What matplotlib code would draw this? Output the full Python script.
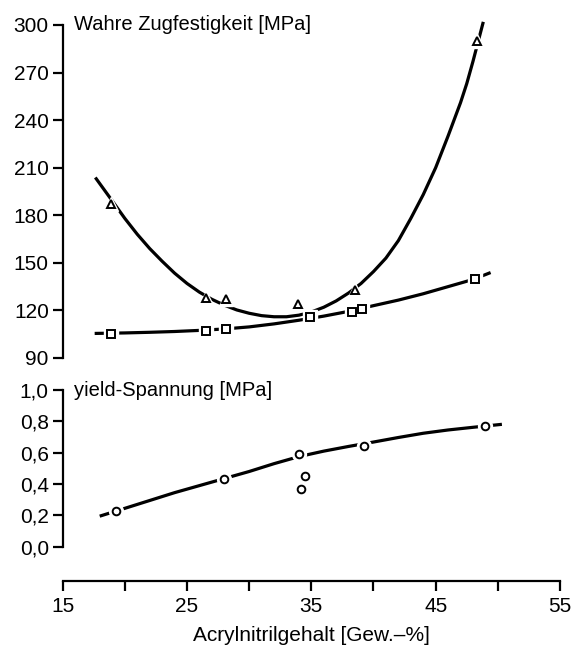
import matplotlib.pyplot as plt

plt.rcParams['font.family'] = ['Liberation Sans', 'DejaVu Sans']

tri_x = [18.9, 26.5, 28.1, 33.9, 38.5, 48.3]
tri_y = [187, 128, 127, 124, 133, 290]
sq_x = [18.9, 26.5, 28.1, 34.9, 38.3, 39.1, 48.2]
sq_y = [105, 107, 108, 116, 119, 121, 140]
circ_x = [19.3, 28.0, 34.0, 34.5, 34.2, 39.2, 49.0]
circ_y = [0.23, 0.43, 0.59, 0.45, 0.37, 0.645, 0.77]

# Hand drawn trend curves
tri_fit_x = [17.7, 18.9, 20, 21, 22, 23, 24, 25, 26, 27, 28, 29, 30, 31, 32, 33, 34,
             35, 36, 37, 38, 39, 40, 41, 42, 43, 44, 45, 46, 47, 47.5, 48, 48.4, 48.8]
tri_fit_y = [203, 190, 178, 168, 159, 151, 143.5, 137, 131.5, 127, 123.3, 120.3, 118.2,
             116.7, 116, 116, 117, 119, 122, 126, 131, 137, 144.5, 153, 164, 178, 193,
             210, 230, 251, 263, 277, 289, 301]
sq_fit_x = [17.7, 20, 22, 24, 26, 28, 30, 32, 34, 36, 38, 40, 42, 44, 46, 48, 49.3]
sq_fit_y = [105.5, 105.8, 106.2, 106.7, 107.4, 108.3, 109.6, 111.5, 113.8, 116.4, 119.4,
            123, 126.5, 130.5, 135, 139.5, 143.5]
yield_fit_x = [18.1, 20, 22, 24, 26, 28, 30, 32, 34, 36, 38, 40, 42, 44, 46, 48, 50.2]
yield_fit_y = [0.198, 0.245, 0.295, 0.345, 0.39, 0.435, 0.48, 0.53, 0.575, 0.61, 0.64,
               0.668, 0.697, 0.724, 0.745, 0.762, 0.78]

top_ticks = [90, 120, 150, 180, 210, 240, 270, 300]
mid_ticks = [0.0, 0.2, 0.4, 0.6, 0.8, 1.0]
mid_labels = ['0,0', '0,2', '0,4', '0,6', '0,8', '1,0']
x_ticks = [15, 20, 25, 30, 35, 40, 45, 50, 55]
x_labels = ['15', '', '25', '', '35', '', '45', '', '55']

fig = plt.figure(figsize=(5.71, 6.47), dpi=100)
left, width = 0.1098, 0.8709
ax_top = fig.add_axes([left, 0.4467, width, 0.5147])
ax_mid = fig.add_axes([left, 0.155, width, 0.2422])
ax_x = fig.add_axes([left, 0.1025, width, 0.0001])

lw = 2.3
fs = 15


def marks(ax, x, y, m):
    # white halo so the curve shows a gap around each symbol
    ax.plot(x, y, ls='none', marker=m, ms=10, mfc='white', mec='white', zorder=3, clip_on=False)
    ax.plot(x, y, ls='none', marker=m, ms=5.5, mfc='white', mec='black', mew=1.4, zorder=4, clip_on=False)


def style_y(ax, ticks, labels, title, top):
    for s in ['top', 'right', 'bottom']:
        ax.spines[s].set_visible(False)
    ax.spines['left'].set_linewidth(1.6)
    ax.set_xlim(15, 55)
    ax.set_xticks([])
    ax.set_yticks(ticks)
    ax.set_yticklabels(labels)
    ax.tick_params(axis='y', direction='out', length=7, width=1.6, labelsize=fs, pad=3)
    ax.set_facecolor('none')
    ax.text(0.022, top, title, transform=ax.get_yaxis_transform(), fontsize=14.5,
            va='center', ha='left')


# top panel: true tensile strength
ax_top.plot(tri_fit_x, tri_fit_y, color='black', lw=lw, clip_on=False, zorder=2)
ax_top.plot(sq_fit_x, sq_fit_y, color='black', lw=lw, zorder=2)
marks(ax_top, tri_x, tri_y, '^')
marks(ax_top, sq_x, sq_y, 's')
ax_top.set_ylim(90, 300)
style_y(ax_top, top_ticks, [str(t) for t in top_ticks], 'Wahre Zugfestigkeit [MPa]', 300)

# middle panel: yield stress
ax_mid.plot(yield_fit_x, yield_fit_y, color='black', lw=lw, zorder=2)
marks(ax_mid, circ_x, circ_y, 'o')
ax_mid.set_ylim(0, 1.0)
style_y(ax_mid, mid_ticks, mid_labels, 'yield-Spannung [MPa]', 1.0)

# separate x axis
for s in ['top', 'right', 'left']:
    ax_x.spines[s].set_visible(False)
ax_x.spines['bottom'].set_linewidth(1.6)
ax_x.set_xlim(15, 55)
ax_x.set_yticks([])
ax_x.set_xticks(x_ticks)
ax_x.set_xticklabels(x_labels)
ax_x.tick_params(axis='x', direction='out', length=7, width=1.6, labelsize=fs, pad=5)
ax_x.set_xlabel('Acrylnitrilgehalt [Gew.\u2013%]', fontsize=15, labelpad=7)

plt.savefig('out.png', dpi=100)
